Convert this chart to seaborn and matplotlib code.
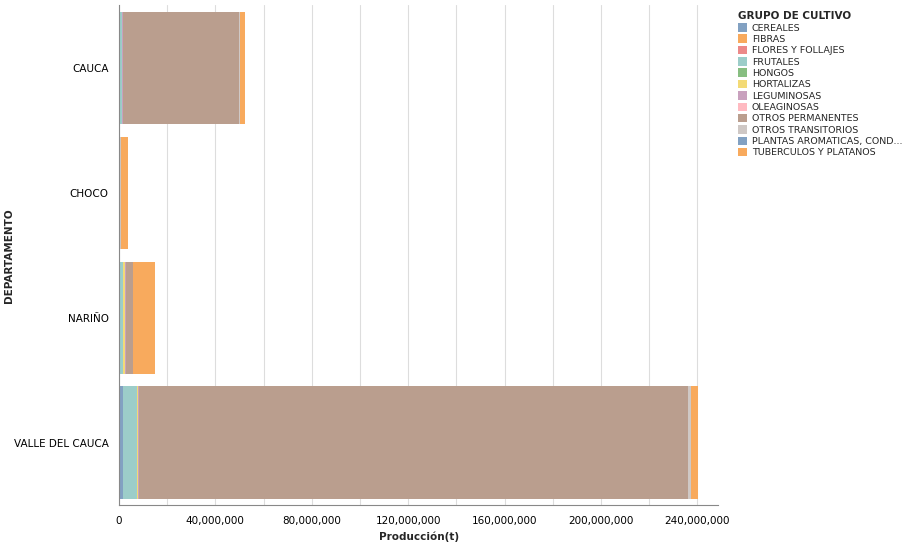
import numpy as np
import pandas as pd
import matplotlib
matplotlib.use("Agg")
import matplotlib.pyplot as plt
from matplotlib.colors import to_rgb
from matplotlib.patches import Patch
import seaborn as sns

departamentos = ["CAUCA", "CHOCO", "NARIÑO", "VALLE DEL CAUCA"]
grupos = ["CEREALES", "FIBRAS", "FLORES Y FOLLAJES", "FRUTALES", "HONGOS", "HORTALIZAS",
          "LEGUMINOSAS", "OLEAGINOSAS", "OTROS PERMANENTES", "OTROS TRANSITORIOS",
          "PLANTAS AROMATICAS, COND...", "TUBERCULOS Y PLATANOS"]
colores = ["#4c78a8", "#f58518", "#e45756", "#72b7b2", "#54a24b", "#eeca3b",
           "#b279a2", "#ff9da6", "#9d755d", "#bab0ac", "#4c78a8", "#f58518"]

# production (t) per department, per group (same order as grupos)
cauca = [400e3, 0, 20e3, 900e3, 0, 150e3, 50e3, 0, 48.5e6, 200e3, 10e3, 2.0e6]
choco = [100e3, 0, 0, 200e3, 0, 20e3, 10e3, 0, 300e3, 50e3, 0, 2.9e6]
narino = [300e3, 0, 10e3, 1.4e6, 0, 1.0e6, 300e3, 0, 2.8e6, 100e3, 0, 9.2e6]
valle = [1.5e6, 0, 100e3, 6.0e6, 0, 500e3, 200e3, 0, 228.0e6, 1.0e6, 0, 2.8e6]

df = pd.DataFrame([cauca, choco, narino, valle], index=departamentos, columns=grupos)
cum = df.cumsum(axis=1)


def soft(c, a=0.7):
    r, g, b = to_rgb(c)
    return (1 - a + a * r, 1 - a + a * g, 1 - a + a * b)


sns.set_style("whitegrid")
fig, ax = plt.subplots(figsize=(9.15, 5.42), dpi=100)
fig.subplots_adjust(left=0.13, right=0.785, top=0.99, bottom=0.068)

for i in range(len(grupos) - 1, -1, -1):
    layer = pd.DataFrame({"dep": departamentos, "val": cum.iloc[:, i].values})
    sns.barplot(data=layer, y="dep", x="val", color=soft(colores[i]),
                width=0.9, orient="h", ax=ax, saturation=1, linewidth=0)

ax.set_xlim(0, 248.7e6)
ax.set_xticks(np.arange(0, 240e6 + 1, 40e6))
ax.set_xticks(np.arange(0, 248e6, 20e6), minor=True)
ax.xaxis.set_major_formatter(matplotlib.ticker.FuncFormatter(lambda v, _: f"{v:,.0f}"))
ax.tick_params(axis="both", labelsize=7.5, colors="#000000", length=4)
ax.grid(axis="x", which="both", color="#dddddd", linewidth=0.8)
ax.grid(axis="y", visible=False)
ax.set_xlabel("Producción(t)", fontsize=7.5, fontweight="bold")
ax.set_ylabel("DEPARTAMENTO", fontsize=7.5, fontweight="bold", labelpad=8)
ax.yaxis.set_label_coords(-0.175, 0.5)
for s in ["top", "right"]:
    ax.spines[s].set_visible(False)
for s in ["left", "bottom"]:
    ax.spines[s].set_color("#888888")

handles = [Patch(facecolor=soft(c), edgecolor="none") for c in colores]
leg = fig.legend(handles, grupos, loc="upper left", bbox_to_anchor=(0.797, 0.995),
                 frameon=False, fontsize=6.8, title="GRUPO DE CULTIVO",
                 handlelength=1, handleheight=1, labelspacing=0.2, handletextpad=0.5)
leg.get_title().set_fontweight("bold")
leg.get_title().set_fontsize(7.5)
leg._legend_box.align = "left"

fig.savefig("out.png", dpi=100)
